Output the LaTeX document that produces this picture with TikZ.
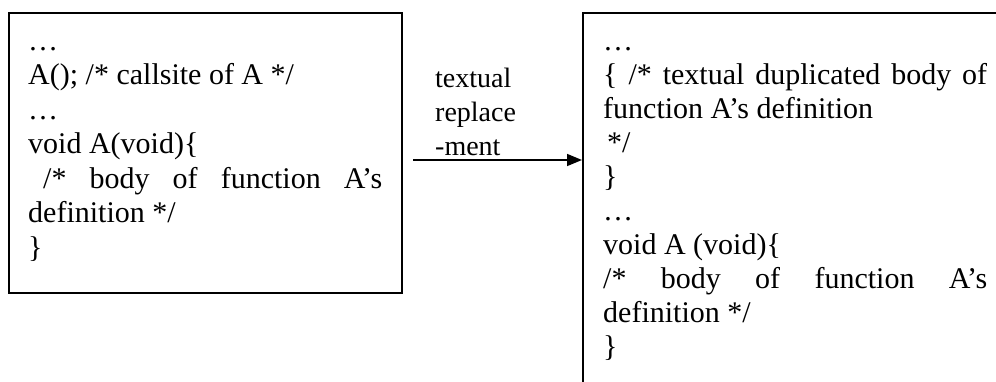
\documentclass[tikz,border=0pt]{standalone}
\usepackage{fontspec}
\setmainfont{Liberation Serif}
\usetikzlibrary{arrows.meta}
\begin{document}
\begin{tikzpicture}[x=1pt,y=1pt,
  box/.style={draw, line width=1.6pt, inner sep=0pt, anchor=north west},
  code/.style={anchor=base west, inner sep=0pt, font=\fontsize{30}{34}\selectfont},
  lbl/.style={anchor=base west, inner sep=0pt, font=\fontsize{28}{34}\selectfont},
  conn/.style={line width=1.6pt, -{Triangle[length=15pt,width=12pt]}}]
\useasboundingbox (0,0) rectangle (996,-381);
\clip (0,0) rectangle (996,-381);

% source program
\node[box, minimum width=393pt, minimum height=280pt] (lb) at (8,-12) {};
\foreach \t [count=\i] in {
  {…},
  {A(); /* callsite of A */},
  {…},
  {void A(void)\{},
  {\makebox[354pt][s]{\hspace*{15pt}/* body of function A’s}},
  {definition */},
  {\}}}
  \node[code] (src-\i) at (28,{-50-34.5*(\i-1)}) {\t};

% program after inlining (box runs past the page edge)
\node[box, minimum width=500pt, minimum height=500pt] (rb) at (582,-12) {};
\foreach \t [count=\i] in {
  {…},
  {\makebox[384pt][s]{\{ /* textual duplicated body of}},
  {function A’s definition},
  {\hspace*{4pt}*/},
  {\}},
  {…},
  {void A (void)\{},
  {\makebox[384pt][s]{/* body of function A’s}},
  {definition */},
  {\}}}
  \node[code] (dst-\i) at (603,{-50-34*(\i-1)}) {\t};

% transformation label and arrow
\foreach \t [count=\i] in {textual, replace, -ment}
  \node[lbl] (lab-\i) at (435,{-87-34*(\i-1)}) {\t};
\coordinate (s) at (413,-160);
\draw[conn] (s) -- (s -| rb.west);
\end{tikzpicture}
\end{document}
